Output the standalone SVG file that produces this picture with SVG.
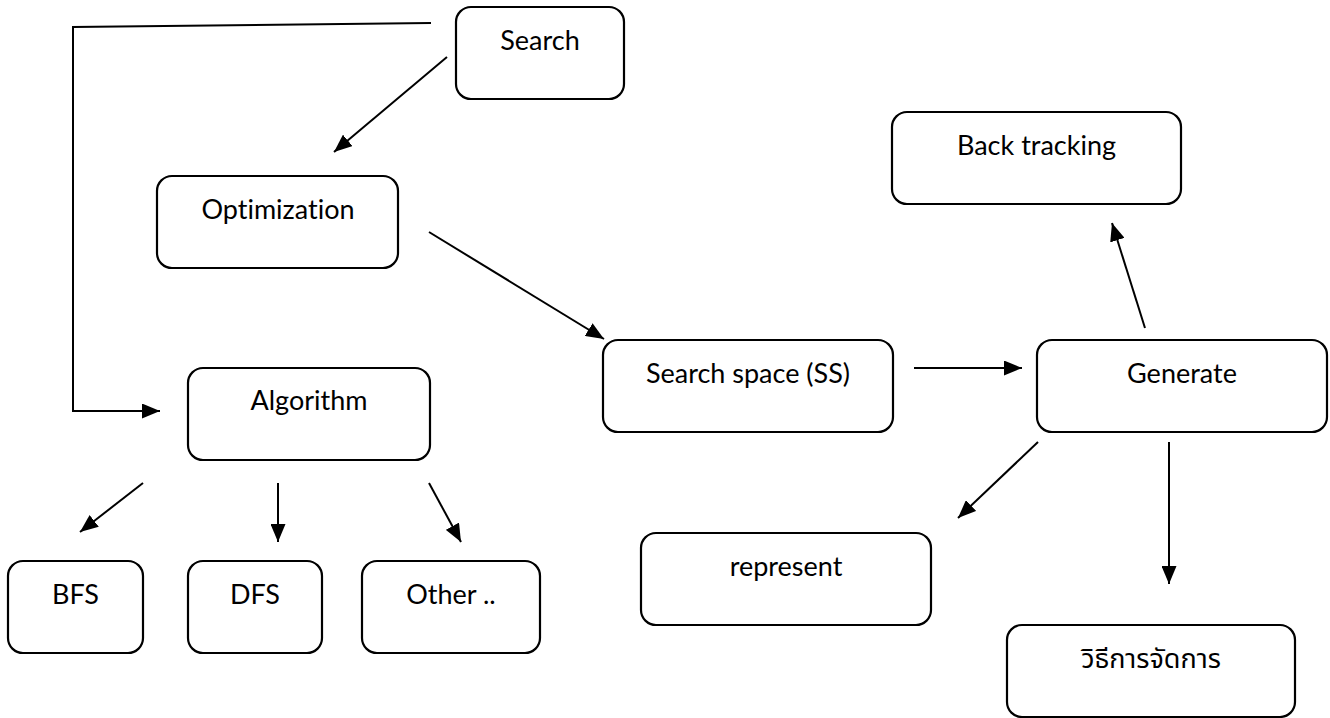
<svg xmlns="http://www.w3.org/2000/svg" width="1330" height="718" viewBox="0 0 1330 718">
<style>
.box{fill:#fff;stroke:#000;stroke-width:2.2}
.lbl{font-family:Lato,"Noto Sans","Noto Sans Thai",sans-serif;font-size:27px;fill:#000;text-anchor:middle;font-variant-ligatures:none}
.con{fill:none;stroke:#000;stroke-width:2}
</style>
<defs>
<marker id="ah" markerUnits="userSpaceOnUse" markerWidth="18" markerHeight="15" refX="18" refY="7.5" orient="auto">
<path d="M0,0 L18,7.5 L0,15 Z" fill="#000"/>
</marker>
</defs>
<rect width="1330" height="718" fill="#fff"/>
<g id="connectors">
<polyline class="con" points="431,23 73,27 73,411 160,411" marker-end="url(#ah)"/>
<line class="con" x1="447" y1="57" x2="334" y2="152" marker-end="url(#ah)"/>
<line class="con" x1="429" y1="232" x2="604" y2="339" marker-end="url(#ah)"/>
<line class="con" x1="914" y1="368" x2="1022" y2="368" marker-end="url(#ah)"/>
<line class="con" x1="1145" y1="328" x2="1112" y2="223" marker-end="url(#ah)"/>
<line class="con" x1="1038" y1="442" x2="958" y2="518" marker-end="url(#ah)"/>
<line class="con" x1="1169" y1="442" x2="1169" y2="584" marker-end="url(#ah)"/>
<line class="con" x1="143" y1="483" x2="80" y2="532" marker-end="url(#ah)"/>
<line class="con" x1="278" y1="483" x2="278" y2="542" marker-end="url(#ah)"/>
<line class="con" x1="429" y1="483" x2="461" y2="542" marker-end="url(#ah)"/>
</g>
<g id="search"><rect class="box" x="456" y="7" width="168" height="92" rx="15"/><text class="lbl" x="540" y="50">Search</text></g>
<g id="optimization"><rect class="box" x="157" y="176" width="241" height="92" rx="15"/><text class="lbl" x="278" y="219">Optimization</text></g>
<g id="algorithm"><rect class="box" x="188" y="368" width="242" height="92" rx="15"/><text class="lbl" x="309" y="410">Algorithm</text></g>
<g id="bfs"><rect class="box" x="8" y="561" width="135" height="92" rx="15"/><text class="lbl" x="75.5" y="604">BFS</text></g>
<g id="dfs"><rect class="box" x="188" y="561" width="134" height="92" rx="15"/><text class="lbl" x="255" y="604">DFS</text></g>
<g id="other"><rect class="box" x="362" y="561" width="178" height="92" rx="15"/><text class="lbl" x="451" y="604">Other ..</text></g>
<g id="searchspace"><rect class="box" x="603" y="340" width="290" height="92" rx="15"/><text class="lbl" x="748" y="383">Search space (SS)</text></g>
<g id="generate"><rect class="box" x="1037" y="340" width="290" height="92" rx="15"/><text class="lbl" x="1182" y="383">Generate</text></g>
<g id="backtracking"><rect class="box" x="892" y="112" width="289" height="92" rx="15"/><text class="lbl" x="1036.5" y="155">Back tracking</text></g>
<g id="represent"><rect class="box" x="641" y="533" width="290" height="92" rx="15"/><text class="lbl" x="786" y="576">represent</text></g>
<g id="thai"><rect class="box" x="1007" y="625" width="288" height="92" rx="15"/><text class="lbl" x="1151" y="668">วิธีการจัดการ</text></g>
</svg>
